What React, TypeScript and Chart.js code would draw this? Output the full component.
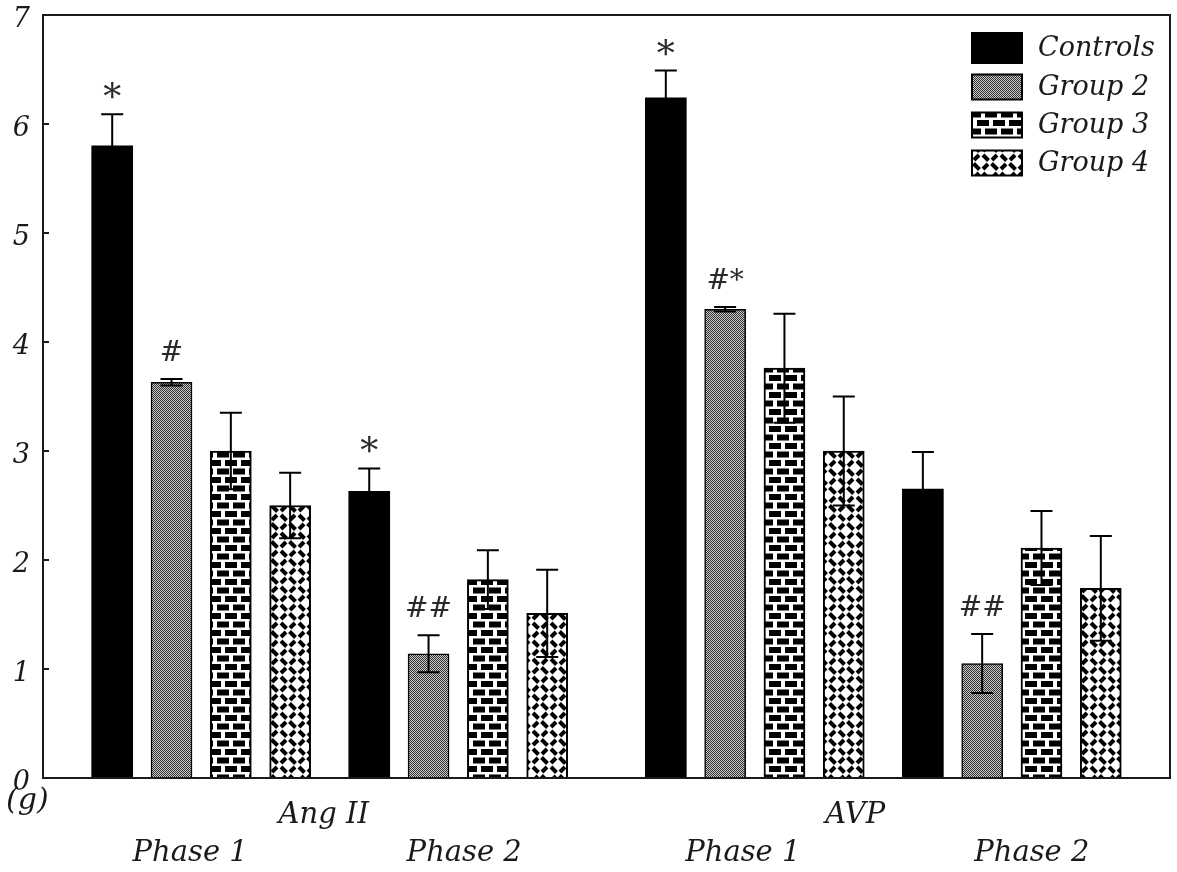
import { useEffect, useRef } from "react";
import { Chart, registerables } from "chart.js";

Chart.register(...registerables);

// ---------------- data ----------------
const hormones = ["Ang II", "AVP"];
const phases = ["Phase 1", "Phase 2"];
const groups = ["Controls", "Group 2", "Group 3", "Group 4"];
// order of clusters: Ang II Phase 1, Ang II Phase 2, AVP Phase 1, AVP Phase 2
const controls = [5.8, 2.63, 6.24, 2.65];
const group2 = [3.63, 1.14, 4.3, 1.05];
const group3 = [3.0, 1.82, 3.76, 2.11];
const group4 = [2.5, 1.51, 3.0, 1.74];
const controlsErr = [0.29, 0.21, 0.25, 0.34];
const group2Err = [0.03, 0.17, 0.02, 0.27];
const group3Err = [0.35, 0.27, 0.5, 0.34];
const group4Err = [0.3, 0.4, 0.5, 0.48];
const controlsMarks = ["*", "*", "*", ""];
const group2Marks = ["#", "##", "#*", "##"];
const group3Marks = ["", "", "", ""];
const group4Marks = ["", "", "", ""];
const yTicks = [0, 1, 2, 3, 4, 5, 6, 7];
const yUnit = "(g)";

// ---------------- layout (slots on the category axis) ----------------
const SLOTS_BEFORE = 3;
const BAR_STEP = 3;
const PHASE_GAP = 4;
const HORMONE_GAP = 6;
const SLOTS_AFTER = 3;
const PHASE_LABEL_SHIFT = [-11, 6, -12, 20];
const HORMONE_LABEL_SHIFT = [-6, -28];

const FONT = "'DejaVu Serif', serif";
const INK = "#1a1a1a";

const values = [controls, group2, group3, group4];
const errors = [controlsErr, group2Err, group3Err, group4Err];
const marks = [controlsMarks, group2Marks, group3Marks, group4Marks];

function buildSlots() {
  const starts: number[] = [];
  let pos = SLOTS_BEFORE;
  const nClusters = hormones.length * phases.length;
  for (let c = 0; c < nClusters; c++) {
    starts.push(pos);
    pos += BAR_STEP * (groups.length - 1);
    if (c < nClusters - 1) pos += c % phases.length === phases.length - 1 ? HORMONE_GAP : PHASE_GAP;
  }
  const total = pos + 1 + SLOTS_AFTER;
  return { starts, total };
}

function makeTile(w: number, h: number, draw: (ctx: CanvasRenderingContext2D) => void) {
  const c = document.createElement("canvas");
  c.width = w;
  c.height = h;
  const ctx = c.getContext("2d")!;
  draw(ctx);
  return c;
}

function makePatterns(ctx: CanvasRenderingContext2D) {
  const gray = makeTile(2, 2, (t) => {
    t.fillStyle = "#c8c8c8";
    t.fillRect(0, 0, 2, 2);
    t.fillStyle = "#333333";
    t.fillRect(0, 0, 1, 1);
    t.fillRect(1, 1, 1, 1);
  });
  const brick = makeTile(16, 17, (t) => {
    t.fillStyle = "#ffffff";
    t.fillRect(0, 0, 16, 17);
    t.fillStyle = "#000000";
    t.fillRect(1, 1, 12, 6);
    t.fillRect(9, 9.5, 7, 6);
    t.fillRect(0, 9.5, 5, 6);
  });
  const weave = makeTile(18, 18, (t) => {
    t.fillStyle = "#ffffff";
    t.fillRect(0, 0, 18, 18);
    t.strokeStyle = "#000000";
    t.lineWidth = 4;
    t.lineCap = "butt";
    t.beginPath();
    t.moveTo(1.5, 1.5);
    t.lineTo(7.5, 7.5);
    t.moveTo(11, 11);
    t.lineTo(16.5, 16.5);
    t.moveTo(11, 7);
    t.lineTo(16, 2);
    t.moveTo(2, 16);
    t.lineTo(7, 11);
    t.stroke();
  });
  return [
    "#000000",
    ctx.createPattern(gray, "repeat")!,
    ctx.createPattern(brick, "repeat")!,
    ctx.createPattern(weave, "repeat")!,
  ];
}

export default function App() {
  const ref = useRef<HTMLCanvasElement | null>(null);

  useEffect(() => {
    const canvas = ref.current!;
    const ctx0 = canvas.getContext("2d")!;
    const fills = makePatterns(ctx0);
    const { starts, total } = buildSlots();
    const labels = Array.from({ length: total }, () => "");

    const datasets = groups.map((g, gi) => {
      const data: (number | null)[] = Array.from({ length: total }, () => null);
      starts.forEach((s, c) => {
        data[s + BAR_STEP * gi] = values[gi][c];
      });
      return {
        label: g,
        data,
        backgroundColor: fills[gi] as any,
        borderColor: "#000000",
        borderWidth: gi === 0 ? 0 : gi === 1 ? 1.5 : 2,
        barThickness: 41,
        skipNull: true,
      };
    });

    const decor = {
      id: "decor",
      afterDatasetsDraw(chart: any) {
        const ctx = chart.ctx as CanvasRenderingContext2D;
        const y = chart.scales.y;
        ctx.save();
        ctx.strokeStyle = "#000";
        ctx.lineWidth = 2;
        groups.forEach((_, gi) => {
          const meta = chart.getDatasetMeta(gi);
          starts.forEach((s, c) => {
            const el = meta.data[s + BAR_STEP * gi];
            if (!el) return;
            const v = values[gi][c];
            const e = errors[gi][c];
            const yt = y.getPixelForValue(v + e);
            const yb = y.getPixelForValue(v - e);
            ctx.beginPath();
            ctx.moveTo(el.x, yt);
            ctx.lineTo(el.x, yb);
            ctx.moveTo(el.x - 11, yt);
            ctx.lineTo(el.x + 11, yt);
            ctx.moveTo(el.x - 11, yb);
            ctx.lineTo(el.x + 11, yb);
            ctx.stroke();
            const m = marks[gi][c];
            if (m) {
              ctx.fillStyle = "#2a2a2a";
              ctx.textAlign = "center";
              ctx.textBaseline = "alphabetic";
              if (m === "*") {
                ctx.font = `36px ${FONT}`;
                ctx.fillText(m, el.x, yt - 5);
              } else {
                ctx.font = `italic 28px ${FONT}`;
                ctx.fillText(m, el.x, yt - 18);
              }
            }
          });
        });
        ctx.restore();
      },
      afterDraw(chart: any) {
        const ctx = chart.ctx as CanvasRenderingContext2D;
        const a = chart.chartArea;
        const y = chart.scales.y;
        ctx.save();
        // frame
        ctx.strokeStyle = INK;
        ctx.lineWidth = 2;
        ctx.strokeRect(a.left, a.top, a.right - a.left, a.bottom - a.top);
        // inward ticks
        ctx.beginPath();
        yTicks.forEach((t) => {
          const py = y.getPixelForValue(t);
          ctx.moveTo(a.left, py);
          ctx.lineTo(a.left + 6, py);
        });
        ctx.stroke();
        // unit label
        ctx.fillStyle = INK;
        ctx.font = `italic 30px ${FONT}`;
        ctx.textAlign = "left";
        ctx.textBaseline = "middle";
        ctx.fillText(yUnit, 6, a.bottom + 23);
        // category labels
        const metas = groups.map((_, gi) => chart.getDatasetMeta(gi));
        const first = (c: number) => metas[0].data[starts[c]].x;
        const last = (c: number) => metas[groups.length - 1].data[starts[c] + BAR_STEP * (groups.length - 1)].x;
        ctx.textAlign = "center";
        ctx.font = `italic 29px ${FONT}`;
        hormones.forEach((h, hi) => {
          const c0 = hi * phases.length;
          const c1 = c0 + phases.length - 1;
          const cx = (first(c0) + last(c1)) / 2 + HORMONE_LABEL_SHIFT[hi];
          ctx.fillText(h, cx, a.bottom + 37);
          phases.forEach((p, pi) => {
            const c = c0 + pi;
            const px = (first(c) + last(c)) / 2 + PHASE_LABEL_SHIFT[c];
            ctx.fillText(p, px, a.bottom + 75);
          });
        });
        // legend
        const lx = 972;
        const rows = [48, 87, 125, 163];
        ctx.font = `italic 27px ${FONT}`;
        ctx.textAlign = "left";
        groups.forEach((g, gi) => {
          const cy = rows[gi];
          const bh = gi === 0 ? 30 : 25;
          ctx.fillStyle = fills[gi] as any;
          ctx.fillRect(lx, cy - bh / 2, 50, bh);
          ctx.strokeStyle = "#000";
          ctx.lineWidth = 2;
          ctx.strokeRect(lx, cy - bh / 2, 50, bh);
          ctx.fillStyle = INK;
          ctx.fillText(g, lx + 66, cy + 1);
        });
        ctx.restore();
      },
    };

    const chart = new Chart(canvas, {
      type: "bar",
      data: { labels, datasets },
      options: {
        animation: false,
        responsive: true,
        maintainAspectRatio: false,
        layout: { padding: { left: 0, top: 15, right: 7, bottom: 94 } },
        plugins: { legend: { display: false }, tooltip: { enabled: false } },
        scales: {
          x: { display: false, offset: true },
          y: {
            min: 0,
            max: 7,
            afterFit: (s: any) => {
              s.width = 43;
              s.paddingTop = 0;
              s.paddingBottom = 0;
            },
            afterBuildTicks: (s: any) => {
              s.ticks = yTicks.map((v) => ({ value: v }));
            },
            grid: { display: false },
            border: { display: false },
            ticks: {
              padding: 5,
              labelOffset: 5,
              color: INK,
              font: { family: FONT, size: 27, style: "italic" },
            },
          },
        },
      },
      plugins: [decor],
    });
    return () => chart.destroy();
  }, []);

  return (
    <div style={{ position: "absolute", left: 0, top: 0, width: 1177, height: 872, background: "#fff" }}>
      <canvas ref={ref} />
    </div>
  );
}
